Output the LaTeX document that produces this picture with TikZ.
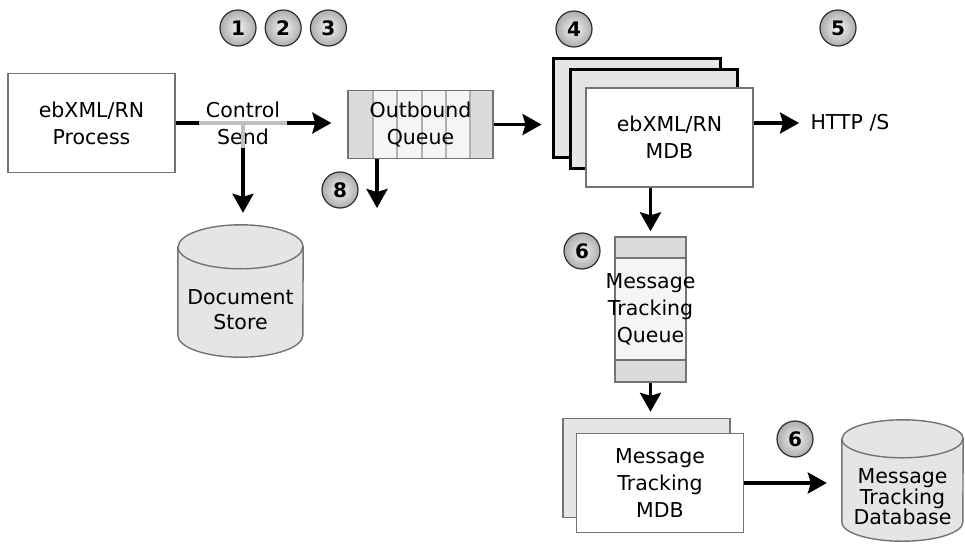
\documentclass[tikz,border=0pt]{standalone}
\usepackage{fontspec}
\setmainfont{DejaVu Sans}
\usetikzlibrary{arrows.meta, positioning, backgrounds}
\definecolor{boxgray}{gray}{0.9}
\definecolor{capgray}{gray}{0.86}
\definecolor{midgray}{gray}{0.96}
\definecolor{edgegray}{gray}{0.45}
\tikzset{
    x=1pt, y=-1pt, % one unit is one pixel, y runs downwards
    every node/.style={font=\fontsize{20.5}{27}\selectfont, align=center}, % text of all nodes
    flow/.style={line width=3.4pt, -{Stealth[length=19pt, width=21pt, inset=3pt]}}, % the bold arrows
    flowline/.style={line width=3.4pt}, % bold line without a head
    ctlline/.style={line width=3.4pt, gray!50}, % the light part behind the control text
    procbox/.style={draw=edgegray, line width=1.4pt, fill=white, minimum width=167, minimum height=99},
    backbox/.style={draw=black, line width=3pt, fill=boxgray, minimum width=167, minimum height=99},
    frontbox/.style={draw=edgegray, line width=1.4pt, fill=white, minimum width=167, minimum height=99},
    shadowbox/.style={draw=edgegray, line width=1.4pt, fill=boxgray, minimum width=167, minimum height=99},
    store/.style={inner sep=0pt}, % text area of a cylinder, below its top ellipse
    cyl/.style={draw=edgegray, line width=1.4pt, fill=boxgray},
    numball/.style={circle, minimum size=36, inner sep=0pt, draw=gray!35!black, line width=1.2pt,
        inner color=gray!8, outer color=gray!65, font=\fontsize{20}{20}\selectfont\bfseries},
    hqueue/.style={draw=edgegray, line width=1.4pt, fill=midgray, minimum width=145, minimum height=68,
        inner sep=0pt, path picture={
            \fill[capgray] (path picture bounding box.north west) rectangle ([xshift=25pt]path picture bounding box.south west);
            \fill[capgray] (path picture bounding box.north east) rectangle ([xshift=-23pt]path picture bounding box.south east);
            \foreach \dx in {25,49,74,98,122}
                \draw[gray!62, line width=2.6pt] ([xshift=\dx pt]path picture bounding box.north west) -- ([xshift=\dx pt]path picture bounding box.south west);
        }},
    vqueue/.style={draw=edgegray, line width=1.4pt, fill=midgray, minimum width=71, minimum height=145,
        inner xsep=-10pt, path picture={
            \fill[capgray] (path picture bounding box.north west) rectangle ([yshift=-21pt]path picture bounding box.north east);
            \fill[capgray] (path picture bounding box.south west) rectangle ([yshift=22pt]path picture bounding box.south east);
            \draw[edgegray, line width=1.4pt] ([yshift=-21pt]path picture bounding box.north west) -- ([yshift=-21pt]path picture bounding box.north east);
            \draw[edgegray, line width=1.4pt] ([yshift=22pt]path picture bounding box.south west) -- ([yshift=22pt]path picture bounding box.south east);
        }},
}

\begin{document}
\begin{tikzpicture}
\useasboundingbox (0,0) rectangle (965,543);
% numbered steps
\node[numball] (n1) at (238,28) {1};
\node[numball, right=8pt of n1] (n2) {2};
\node[numball, right=8pt of n2] (n3) {3};
\node[numball] (n4) at (574,29) {4};
\node[numball] (n5) at (838,28) {5};
\node[numball] (n8) at (340,190) {8};
\node[numball] (n6a) at (582,251) {6};
\node[numball] (n6b) at (795,439) {6};
% sending side
\node[procbox] (proc) at (91.5,123) {ebXML/RN\\Process};
\node[inner xsep=7pt, inner ysep=3pt] (ctl) at (243,123) {Control\\Send};
\node[store, minimum width=125, minimum height=94, font=\fontsize{20.5}{25}\selectfont] (docstore) at (240.5,310) {Document\\Store};
\node[hqueue] (outq) at (420.5,124.5) {Outbound\\Queue};
\coordinate (drop) at (377,208);
% message driven beans
\node[backbox] (mdb1) at (636.5,107.5) {};
\node[backbox] (mdb2) at (653.5,118.5) {};
\node[frontbox] (mdb) at (669.5,137.5) {ebXML/RN\\MDB};
\node (http) at (850,123) {HTTP /S};
\node[vqueue] (mtq) at (650.5,309.5) {Message\\Tracking\\Queue};
\node[shadowbox] (mtmdb1) at (646.5,468) {};
\node[frontbox] (mtmdb) at (660,483) {Message\\Tracking\\MDB};
\node[store, minimum width=121, minimum height=88, font=\fontsize{20.5}{20.5}\selectfont] (db) at (902.5,497) {Message\\Tracking\\Database};
% the two cylinders behind their text
\begin{scope}[on background layer]
\draw[cyl] ([yshift=16pt]docstore.north west) -- ([yshift=22pt]docstore.south west)
    arc[start angle=180, end angle=360, x radius=62.5pt, y radius=22pt] -- ([yshift=16pt]docstore.north east)
    arc[start angle=0, end angle=180, x radius=62.5pt, y radius=22pt] -- cycle;
\draw[cyl] ([yshift=16pt]docstore.north west) arc[start angle=180, end angle=360, x radius=62.5pt, y radius=22pt];
\draw[cyl] ([yshift=14pt]db.north west) -- ([yshift=19pt]db.south west)
    arc[start angle=180, end angle=360, x radius=60.5pt, y radius=19pt] -- ([yshift=14pt]db.north east)
    arc[start angle=0, end angle=180, x radius=60.5pt, y radius=19pt] -- cycle;
\draw[cyl] ([yshift=14pt]db.north west) arc[start angle=180, end angle=360, x radius=60.5pt, y radius=19pt];
\end{scope}
% connectors
\draw[ctlline] (ctl.west) -- (ctl.east);
\draw[ctlline] (ctl.center) -- (ctl.south);
\draw[flowline] (proc.east) -- (ctl.west);
\draw[flow, shorten >=16pt] (ctl.east) -- (ctl.east -| outq.west);
\draw[flow, shorten >=50pt] (ctl.south) -- (ctl.south |- docstore.north);
\draw[flow] (outq.south west -| drop) -- (drop);
\draw[flow, shorten >=10pt] (outq.east) -- (outq.east -| mdb1.west);
\draw[flow, shorten >=8pt] (http -| mdb.east) -- (http.west);
\draw[flow, shorten >=5pt] (mtq.north |- mdb.south) -- (mtq.north);
\draw[flow, shorten >=6pt] (mtq.south) -- (mtq.south |- mtmdb1.north);
\draw[flow, shorten >=15pt] (mtmdb.east) -- (mtmdb.east -| db.west);
\end{tikzpicture}
\end{document}
